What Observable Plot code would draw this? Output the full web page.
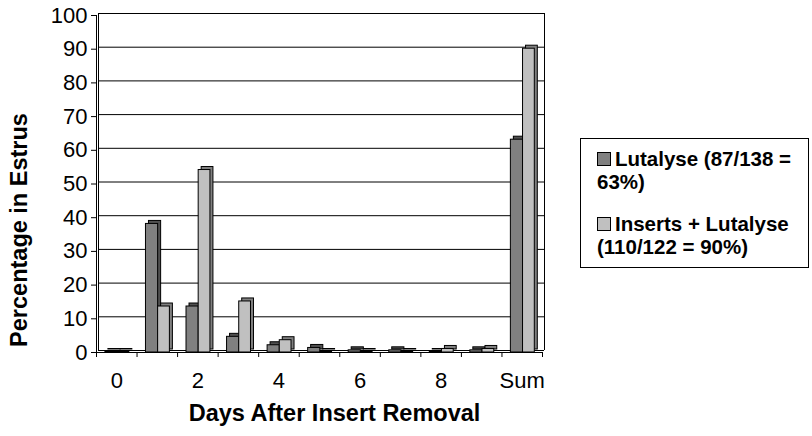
<!DOCTYPE html>
<html><head><meta charset="utf-8">
<script src="https://cdn.jsdelivr.net/npm/d3@7"></script>
<script src="https://cdn.jsdelivr.net/npm/@observablehq/plot@0.6"></script>
<style>
body{margin:0;background:#fff;font-family:"Liberation Sans",Arial,sans-serif;}
#wrap{position:relative;width:812px;height:436px;overflow:hidden;}
#legend{position:absolute;left:580px;top:138px;width:229px;height:130px;border:1px solid #000;box-sizing:border-box;font-weight:bold;font-size:20.5px;line-height:23px;color:#000;}
.item{position:absolute;left:16px;white-space:nowrap;}
.sw{display:inline-block;width:14px;height:14px;border:1px solid #000;box-sizing:border-box;margin-right:4px;vertical-align:0px;}
</style></head>
<body><div id="wrap"></div>
<script>
const days = ["0","1","2","3","4","5","6","7","8","9","Sum"];
const lutalyse = [0, 38, 13.5, 4.5, 2, 1.2, 0.5, 0.5, 0, 0.5, 63];
const inserts  = [0, 13.5, 54, 15, 3.5, 0, 0, 0, 0.9, 0.9, 90];
const tickLabels = ["0","2","4","6","8","Sum"];
const seriesNames = ["Lutalyse (87/138 = 63%)", "Inserts + Lutalyse (110/122 = 90%)"];
const yTicks = [0,10,20,30,40,50,60,70,80,90,100];
const xTitle = "Days After Insert Removal";
const yTitle = "Percentage in Estrus";

const colors = ["#808080", "#c0c0c0"];
const sides = ["#505050", "#808080"];
const rows = days.map((d, i) => ({i, day: d, lut: lutalyse[i], ins: inserts[i]}));
const n = days.length;

function bar3d(key, a, b, fill, side) {
  return [
    Plot.rectY(rows, {x1: d => d.i + a, x2: d => d.i + b, y1: 0, y2: d => d[key], fill: side, stroke: "#000", strokeWidth: 1, dx: 3, dy: -3, insetTop: -0.5}),
    Plot.rectY(rows, {x1: d => d.i + a, x2: d => d.i + b, y1: 0, y2: d => d[key], fill, stroke: "#000", strokeWidth: 1, insetTop: -0.5})
  ];
}

const chart = Plot.plot({
  width: 812, height: 436,
  marginLeft: 96, marginRight: 270, marginTop: 15, marginBottom: 84,
  style: {fontFamily: '"Liberation Sans", Arial, sans-serif', fontSize: "22px", color: "#000", background: "#fff", overflow: "visible"},
  x: {type: "linear", domain: [0, n], axis: null},
  y: {domain: [0, 100], axis: null},
  marks: [
    Plot.ruleY(yTicks, {y: d => d, dx: 2, dy: -2, stroke: "#000", strokeWidth: 1}),
    Plot.ruleX([0, n], {x: d => d, y1: 0, y2: 100, dx: 2, dy: -2, stroke: "#000"}),
    Plot.ruleX([0], {x: d => d, y1: 0, y2: 100, stroke: "#000"}),
    ...bar3d("lut", 0.22, 0.52, colors[0], sides[0]),
    ...bar3d("ins", 0.52, 0.81, colors[1], sides[1]),
    Plot.ruleY([0], {y: d => d, stroke: "#000"}),
    Plot.axisY({ticks: yTicks, tickSize: 5, tickPadding: 4, fontSize: 22, stroke: "#000"}),
    Plot.axisX({ticks: d3.range(n + 1), tickSize: 5, tickFormat: () => "", stroke: "#000"}),
    Plot.axisX({ticks: tickLabels.map(l => days.indexOf(l) + 0.5), tickSize: 0, tickPadding: 20, fontSize: 22, tickFormat: v => days[Math.floor(v)]}),
    Plot.text([xTitle], {frameAnchor: "bottom", dy: 68, dx: 15, fontWeight: "bold", fontSize: 23.5, text: d => d}),
    Plot.text([yTitle], {frameAnchor: "left", textAnchor: "middle", dx: -77, dy: 46, rotate: -90, fontWeight: "bold", fontSize: 23.5, text: d => d})
  ]
});
const wrap = document.getElementById("wrap");
wrap.appendChild(chart);

const legend = document.createElement("div");
legend.id = "legend";
const lines = [["Lutalyse (87/138 =", "63%)"], ["Inserts + Lutalyse", "(110/122 = 90%)"]];
seriesNames.forEach((name, k) => {
  const it = document.createElement("div");
  it.className = "item";
  it.style.top = (k === 0 ? 7.5 : 72.5) + "px";
  it.innerHTML = `<span class="sw" style="background:${colors[k]}"></span>${lines[k][0]}<br>${lines[k][1]}`;
  legend.appendChild(it);
});
wrap.appendChild(legend);
</script>
</body></html>
